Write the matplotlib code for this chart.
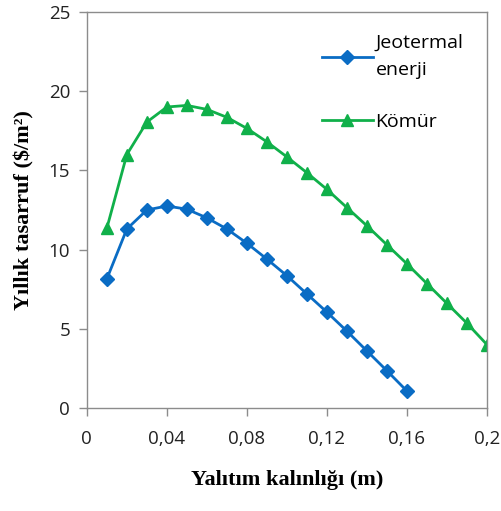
import matplotlib.pyplot as plt
from matplotlib.ticker import FuncFormatter

# insulation thickness (m)
thickness = [0.01, 0.02, 0.03, 0.04, 0.05, 0.06, 0.07, 0.08, 0.09, 0.10,
             0.11, 0.12, 0.13, 0.14, 0.15, 0.16, 0.17, 0.18, 0.19, 0.20]

# annual savings ($/m2)
jeotermal = [8.15, 11.3, 12.5, 12.75, 12.55, 12.0, 11.3, 10.4, 9.4, 8.35,
             7.2, 6.05, 4.85, 3.6, 2.35, 1.07]
komur = [11.35, 16.0, 18.05, 19.0, 19.1, 18.85, 18.35, 17.65, 16.8, 15.85,
         14.85, 13.8, 12.65, 11.5, 10.3, 9.1, 7.85, 6.6, 5.35, 4.0]

x_ticks = [0, 0.04, 0.08, 0.12, 0.16, 0.2]
y_ticks = [0, 5, 10, 15, 20, 25]

blue = '#0A6CC4'
green = '#10B04A'
grey = '#8C8C8C'

fig = plt.figure(figsize=(5.02, 5.11), dpi=100)
ax = fig.add_axes([0.173, 0.2016, 0.797, 0.775])

ax.plot(thickness[:len(jeotermal)], jeotermal, color=blue, lw=2,
        marker='D', ms=7, label='Jeotermal\nenerji')
ax.plot(thickness, komur, color=green, lw=2,
        marker='^', ms=9, label='Kömür')

ax.set_xlim(0, 0.2)
ax.set_ylim(0, 25)
ax.set_xticks(x_ticks)
ax.set_yticks(y_ticks)
ax.xaxis.set_major_formatter(FuncFormatter(
    lambda v, p: '0' if v == 0 else ('%g' % round(v, 2)).replace('.', ',')))

for s in ax.spines.values():
    s.set_color(grey)
    s.set_linewidth(1)
ax.tick_params(direction='out', length=6, width=1, color=grey,
               labelsize=13.5, labelcolor='#222222', pad=6)
ax.tick_params(axis='x', pad=10)
for lbl in ax.get_xticklabels() + ax.get_yticklabels():
    lbl.set_family('Open Sans')

ax.set_xlabel('Yalıtım kalınlığı (m)', family='Liberation Serif',
              fontweight='bold', fontsize=16, labelpad=16)
ax.set_ylabel('Yıllık tasarruf (\\$/m²)', family='Liberation Serif',
              fontweight='bold', fontsize=16, labelpad=10)

leg = ax.legend(loc='upper right', bbox_to_anchor=(0.985, 0.99), frameon=False,
                prop={'family': 'Open Sans', 'size': 14}, handlelength=2.6,
                labelspacing=1.75, handletextpad=0.15)
for t in leg.get_texts():
    t.set_linespacing(1.7)

fig.savefig('out.png', dpi=100)
